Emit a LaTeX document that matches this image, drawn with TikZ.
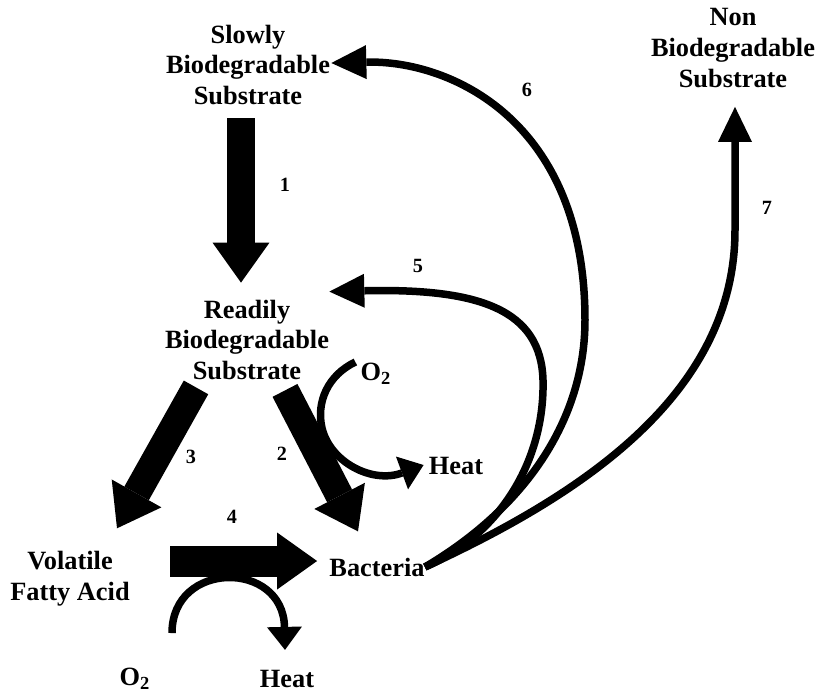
\documentclass[tikz,border=0pt]{standalone}
\usepackage{fontspec}
\setmainfont{Liberation Serif}
\usetikzlibrary{arrows.meta, positioning, calc}

\begin{document}
\begin{tikzpicture}[x=0.02cm, y=-0.02cm,
				% Define styles
				pool/.style={align=center, inner sep=0pt, font=\bfseries\fontsize{15}{17.5}\selectfont},
				gas/.style={inner sep=0pt, font=\bfseries\fontsize{15}{17.5}\selectfont},
				ratelabel/.style={inner sep=0pt, font=\bfseries\fontsize{11.5}{13}\selectfont},
				bigarrow/.style={line width=0.56cm, -{Triangle[length=0.8cm, width=1.14cm, line width=0pt]}},
				thinarrow/.style={line width=0.15cm, -{Triangle[length=0.7cm, width=0.68cm, line width=0pt]}},
				heatarrow/.style={line width=0.15cm, -{Triangle[length=0.46cm, width=0.7cm, line width=0pt]}}
				]
				\useasboundingbox (0,0) rectangle (819,691);
				
				% Substrate pools
				\node[pool] (sbs) at (248,65) {Slowly\\Biodegradable\\Substrate};
				\node[pool] (nbs) at (733,48) {Non\\Biodegradable\\Substrate};
				\node[pool] (rbs) at (247,340) {Readily\\Biodegradable\\Substrate};
				\node[pool] (vfa) at (70,579) {Volatile\\Fatty Acid};
				\node[pool] (bac) at (377,567) {Bacteria};
				
				% Oxygen and heat
				\node[gas] (o2a) at (376,374) {O\textsubscript{2}};
				\node[gas] (heata) at (456,466) {Heat};
				\node[gas] (o2b) at (135,679) {O\textsubscript{2}};
				\node[gas] (heatb) at (287,679) {Heat};
				
				% Main conversions
				\draw[bigarrow] ([shift={(-7,13)}]sbs.south) -- ([shift={(-6,-17)}]rbs.north);
				\draw[bigarrow] ([shift={(38,10)}]rbs.south) -- ([shift={(-19,-26)}]bac.north);
				\draw[bigarrow] ([shift={(-51,7)}]rbs.south) -- ([shift={(47,-23)}]vfa.north);
				\draw[bigarrow, line width=0.62cm] ([shift={(40,-18)}]vfa.east) -- ([shift={(-12,-6)}]bac.west);
				
				% Oxygen uptake and heat release
				\draw[heatarrow] ([shift={(-5,-12)}]o2a.west) .. controls (328,375) and (316,402) .. (322,428)
					.. controls (330,462) and (372,484) .. ([shift={(-5,-1)}]heata.west);
				\draw[heatarrow] ([shift={(37,-35)}]o2b.north) .. controls (172,560) and (283,560) .. ([shift={(-2,-20)}]heatb.north);
				
				% Decay of bacteria
				\draw[thinarrow] (bac.east) .. controls (500,535) and (545,460) .. (543,380)
					.. controls (541,310) and (480,288) .. ([shift={(0,-8)}]rbs.north east);
				\draw[thinarrow] (bac.east) .. controls (525,508) and (585,420) .. (585,320)
					.. controls (585,120) and (450,60) .. ([shift={(1,-2)}]sbs.east);
				\draw[thinarrow] (bac.east) .. controls (570,500) and (735,400) .. (735,230)
					-- ([shift={(2,19)}]nbs.south);
				
				% Process numbers
				\node[ratelabel] (n1) at (285,185) {1};
				\node[ratelabel] (n2) at (282,454) {2};
				\node[ratelabel] (n3) at (191,457) {3};
				\node[ratelabel] (n4) at (232,517) {4};
				\node[ratelabel] (n5) at (418,266) {5};
				\node[ratelabel] (n6) at (527,90) {6};
				\node[ratelabel] (n7) at (767,208) {7};
				
			\end{tikzpicture}
\end{document}
